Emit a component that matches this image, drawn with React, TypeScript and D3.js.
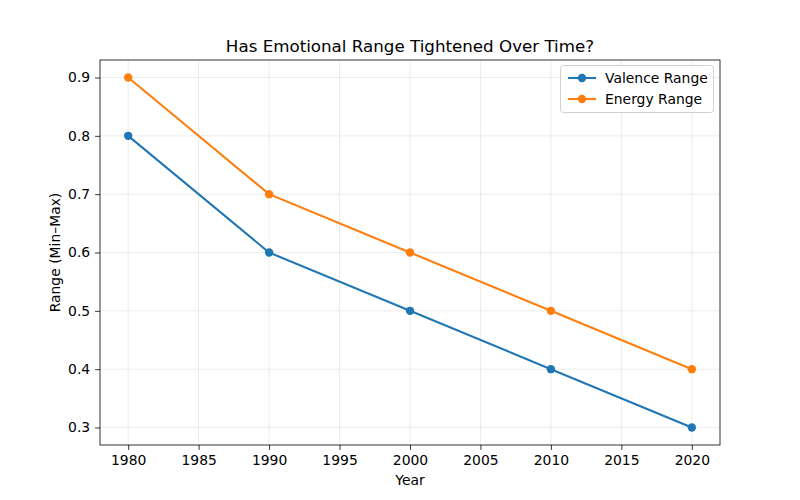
import { useEffect, useRef } from "react";
import * as d3 from "d3";

const years = [1980, 1990, 2000, 2010, 2020];
const valenceRange = [0.8, 0.6, 0.5, 0.4, 0.3];
const energyRange = [0.9, 0.7, 0.6, 0.5, 0.4];
const xTicks = [1980, 1985, 1990, 1995, 2000, 2005, 2010, 2015, 2020];
const yTicks = [0.3, 0.4, 0.5, 0.6, 0.7, 0.8, 0.9];

const series = [
  { name: "Valence Range", values: valenceRange, color: "#1f77b4" },
  { name: "Energy Range", values: energyRange, color: "#ff7f0e" },
];

export default function App() {
  const svgRef = useRef<SVGSVGElement>(null);

  useEffect(() => {
    const svg = d3.select(svgRef.current);
    svg.selectAll("*").remove();

    const width = 800;
    const height = 500;
    const margin = { top: 60, right: 80, bottom: 55, left: 100 };
    const W = width - margin.left - margin.right;
    const H = height - margin.top - margin.bottom;
    const font = "DejaVu Sans, sans-serif";

    svg.attr("width", width).attr("height", height).style("background", "#fff");

    const g = svg.append("g").attr("transform", `translate(${margin.left},${margin.top})`);

    const x = d3.scaleLinear().domain([1978, 2022]).range([0, W]);
    const y = d3.scaleLinear().domain([0.27, 0.93]).range([H, 0]);

    // grid
    g.append("g")
      .selectAll("line")
      .data(xTicks)
      .join("line")
      .attr("x1", (d) => x(d)).attr("x2", (d) => x(d))
      .attr("y1", 0).attr("y2", H)
      .attr("stroke", "#b0b0b0").attr("stroke-opacity", 0.3).attr("stroke-width", 0.8);
    g.append("g")
      .selectAll("line")
      .data(yTicks)
      .join("line")
      .attr("x1", 0).attr("x2", W)
      .attr("y1", (d) => y(d)).attr("y2", (d) => y(d))
      .attr("stroke", "#b0b0b0").attr("stroke-opacity", 0.3).attr("stroke-width", 0.8);

    // axes
    const styleAxis = (ax: any) => {
      ax.select(".domain").remove();
      ax.selectAll(".tick line").attr("stroke", "#000").attr("stroke-width", 0.8);
      ax.selectAll(".tick text").attr("fill", "#000").attr("font-size", 13.9).attr("font-family", font);
    };
    g.append("g")
      .attr("transform", `translate(0,${H})`)
      .call(d3.axisBottom(x).tickValues(xTicks).tickFormat(d3.format("d")).tickSize(4.9).tickPadding(4.9))
      .call(styleAxis);
    g.append("g")
      .call(d3.axisLeft(y).tickValues(yTicks).tickFormat(d3.format(".1f")).tickSize(4.9).tickPadding(4.9))
      .call(styleAxis);

    g.append("rect")
      .attr("width", W).attr("height", H)
      .attr("fill", "none").attr("stroke", "#000").attr("stroke-width", 0.8);

    // lines
    const line = d3.line<number>()
      .x((_, i) => x(years[i]))
      .y((d) => y(d));

    series.forEach((s) => {
      g.append("path")
        .datum(s.values)
        .attr("d", line)
        .attr("fill", "none")
        .attr("stroke", s.color)
        .attr("stroke-width", 2.08);
      g.append("g")
        .selectAll("circle")
        .data(s.values)
        .join("circle")
        .attr("cx", (_, i) => x(years[i]))
        .attr("cy", (d) => y(d))
        .attr("r", 4.2)
        .attr("fill", s.color);
    });

    // legend
    const lg = g.append("g").attr("transform", `translate(${W - 160},5)`);
    lg.append("rect")
      .attr("x", 0.5).attr("y", 0.5)
      .attr("width", 153).attr("height", 47)
      .attr("rx", 3)
      .attr("fill", "#fff").attr("fill-opacity", 0.8)
      .attr("stroke", "#d0d0d0").attr("stroke-width", 1);
    series.forEach((s, i) => {
      const cy = 13 + i * 21;
      lg.append("line")
        .attr("x1", 8).attr("x2", 36)
        .attr("y1", cy).attr("y2", cy)
        .attr("stroke", s.color).attr("stroke-width", 2.08);
      lg.append("circle").attr("cx", 22).attr("cy", cy).attr("r", 4.2).attr("fill", s.color);
      lg.append("text")
        .attr("x", 45).attr("y", cy)
        .attr("dy", "0.35em")
        .attr("font-size", 13.9).attr("font-family", font)
        .text(s.name);
    });

    // labels
    svg.append("text")
      .attr("x", margin.left + W / 2).attr("y", 52)
      .attr("text-anchor", "middle")
      .attr("font-size", 16.7).attr("font-family", font)
      .text("Has Emotional Range Tightened Over Time?");
    svg.append("text")
      .attr("x", margin.left + W / 2).attr("y", 485)
      .attr("text-anchor", "middle")
      .attr("font-size", 13.9).attr("font-family", font)
      .text("Year");
    svg.append("text")
      .attr("transform", `translate(60,${margin.top + H / 2}) rotate(-90)`)
      .attr("text-anchor", "middle")
      .attr("font-size", 13.9).attr("font-family", font)
      .text("Range (Min–Max)");
  }, []);

  return <svg ref={svgRef} style={{ display: "block", margin: "-8px" }} />;
}
